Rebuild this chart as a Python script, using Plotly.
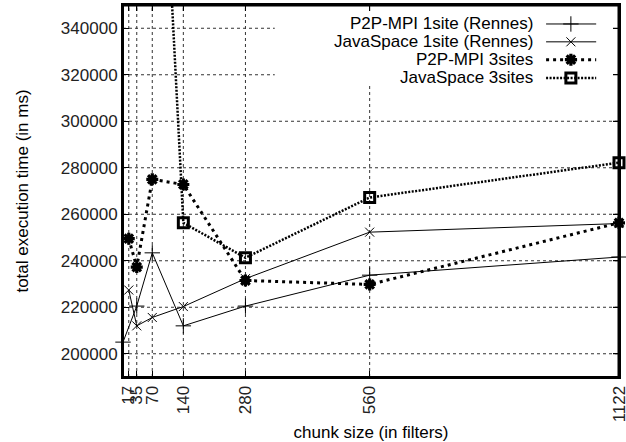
import plotly.graph_objects as go

# ---- data ----
x_ticks = [17, 35, 70, 140, 280, 560, 1122]
y_ticks = [200000, 220000, 240000, 260000, 280000, 300000, 320000, 340000]

p2p_1site_x = [4, 35, 70, 140, 280, 560, 1122]
p2p_1site_y = [205000, 220500, 243400, 212000, 220500, 233800, 241600]

js_1site_x = [17, 35, 70, 140, 280, 560, 1122]
js_1site_y = [227400, 212000, 215600, 220300, 232300, 252300, 256000]

p2p_3sites_x = [17, 35, 70, 140, 280, 560, 1122]
p2p_3sites_y = [249500, 237300, 275000, 272800, 231500, 229800, 256300]

js_3sites_x = [70, 140, 280, 560, 1122]
js_3sites_y = [515000, 256300, 241300, 267200, 282200]

names = ["P2P-MPI 1site (Rennes)", "JavaSpace 1site (Rennes)",
         "P2P-MPI 3sites", "JavaSpace 3sites"]

X_RANGE = [4, 1122]
Y_RANGE = [190000, 350000]

FONT = "Liberation Sans, Arial, Helvetica, sans-serif"
FS = 17

W, H = 626, 442
ML, MR, MT, MB = 123, 7, 5, 65
PW, PH = W - ML - MR, H - MT - MB
TICK = 6


def px_x(frac):
    return X_RANGE[0] + frac * (X_RANGE[1] - X_RANGE[0])


def px_y(frac):
    return Y_RANGE[0] + frac * (Y_RANGE[1] - Y_RANGE[0])


styles = [
    dict(line=dict(color="black", width=1),
         marker=dict(symbol="cross-thin-open", size=11, color="black",
                     line=dict(color="black", width=1))),
    dict(line=dict(color="black", width=1),
         marker=dict(symbol="x-thin-open", size=9, color="black",
                     line=dict(color="black", width=1))),
    dict(line=dict(color="black", width=3, dash="3px,4px"),
         marker=dict(symbol="asterisk-open", size=10, color="black",
                     line=dict(color="black", width=3.2))),
    dict(line=dict(color="black", width=2.5, dash="2px,1.5px"),
         marker=dict(symbol="square-open", size=10, color="black",
                     line=dict(color="black", width=3))),
]

series = [(p2p_1site_x, p2p_1site_y), (js_1site_x, js_1site_y),
          (p2p_3sites_x, p2p_3sites_y), (js_3sites_x, js_3sites_y)]

fig = go.Figure()

# ---- key box (paper fractions of the plot area) ----
KEY_X0, KEY_Y0 = 0.306, 0.786
key_y = [0.949, 0.901, 0.853, 0.804]

# ---- dotted grid, interrupted by the key box like gnuplot ----
GRID = dict(color="#333333", width=1, dash="dot")
for yv in y_ticks:
    frac = (yv - Y_RANGE[0]) / (Y_RANGE[1] - Y_RANGE[0])
    x1 = KEY_X0 if frac > KEY_Y0 else 1
    fig.add_shape(type="line", xref="paper", yref="y", x0=0, x1=x1,
                  y0=yv, y1=yv, line=GRID, layer="below")
    fig.add_shape(type="line", xref="paper", yref="y", x0=1 - TICK / PW, x1=1,
                  y0=yv, y1=yv, line=dict(color="black", width=1), layer="above")
for xv in x_ticks:
    frac = (xv - X_RANGE[0]) / (X_RANGE[1] - X_RANGE[0])
    y1 = KEY_Y0 if frac > KEY_X0 else 1
    fig.add_shape(type="line", xref="x", yref="paper", x0=xv, x1=xv,
                  y0=0, y1=y1, line=GRID, layer="below")
    fig.add_shape(type="line", xref="x", yref="paper", x0=xv, x1=xv,
                  y0=1 - TICK / PH, y1=1, line=dict(color="black", width=1), layer="above")

# plot frame: top and right sides drawn as a trace along the axis ranges
fig.add_trace(go.Scatter(x=[X_RANGE[0], X_RANGE[1], X_RANGE[1]],
                         y=[Y_RANGE[1], Y_RANGE[1], Y_RANGE[0]],
                         mode="lines", line=dict(color="black", width=3),
                         showlegend=False, hoverinfo="skip"))
fig.add_shape(type="rect", xref="paper", yref="paper", x0=0, x1=1, y0=0, y1=1,
              line=dict(color="black", width=2), fillcolor="rgba(0,0,0,0)",
              layer="above")

for (xs, ys), st, nm in zip(series, styles, names):
    fig.add_trace(go.Scatter(x=xs, y=ys, mode="lines+markers", name=nm,
                             line=st["line"], marker=st["marker"],
                             cliponaxis=False, showlegend=False))

# ---- custom key (text right-aligned, sample on the right, like gnuplot) ----
for st, nm, ky in zip(styles, names, key_y):
    yy = px_y(ky)
    fig.add_trace(go.Scatter(x=[px_x(0.853), px_x(0.903), px_x(0.954)], y=[yy, yy, yy],
                             mode="lines+markers",
                             line=st["line"], marker=st["marker"],
                             selectedpoints=[1],
                             selected=dict(marker=dict(opacity=1)),
                             unselected=dict(marker=dict(opacity=0)),
                             showlegend=False, hoverinfo="skip", cliponaxis=False))
    fig.add_annotation(x=0.829, y=ky, xref="paper", yref="paper", text=nm,
                       showarrow=False, xanchor="right", yanchor="middle",
                       borderpad=0,
                       font=dict(family=FONT, size=FS, color="black"))

axis_common = dict(showline=True, linecolor="black", linewidth=2, mirror="ticks",
                   ticks="inside", ticklen=TICK, tickcolor="black", tickwidth=1,
                   showgrid=False, zeroline=False, ticklabeloverflow="allow",
                   tickfont=dict(family=FONT, size=FS, color="#222222"))

fig.update_layout(
    width=W, height=H,
    margin=dict(l=ML, r=MR, t=MT, b=MB),
    paper_bgcolor="white", plot_bgcolor="white",
    font=dict(family=FONT, size=FS, color="black"),
    xaxis=dict(axis_common, range=X_RANGE, tickmode="array",
               tickvals=x_ticks, ticktext=[str(v) for v in x_ticks],
               tickangle=-90, automargin=False,
               title=dict(text="chunk size (in filters)", standoff=8,
                          font=dict(family=FONT, size=FS, color="black"))),
    yaxis=dict(axis_common, range=Y_RANGE, tickmode="array",
               tickvals=y_ticks, ticktext=[str(v) for v in y_ticks],
               automargin=False,
               title=dict(text="total execution time (in ms)", standoff=28,
                          font=dict(family=FONT, size=FS, color="black"))),
)

fig.write_html("out.html", config={"displayModeBar": False},
               post_script="document.body.style.margin='0';document.body.style.padding='0';")
